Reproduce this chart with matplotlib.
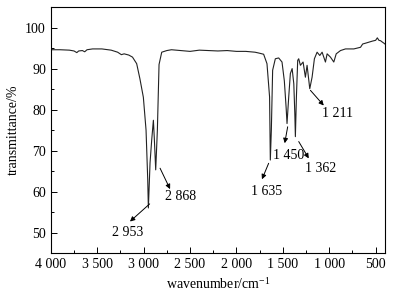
import matplotlib
matplotlib.use("Agg")
import matplotlib.pyplot as plt
from matplotlib.ticker import MultipleLocator, FuncFormatter

# IR spectrum (wavenumber cm-1, transmittance %)
wavenumber = [4000, 3900, 3800, 3750, 3720, 3700, 3660, 3635, 3610, 3550,
              3450, 3350, 3280, 3240, 3210, 3160, 3120, 3075, 3040, 3003,
              2974, 2956, 2949, 2931, 2913, 2895, 2885, 2870, 2852, 2834,
              2805, 2750, 2700, 2600, 2500, 2400, 2300, 2200, 2100, 2000,
              1900, 1800, 1760, 1707, 1671, 1643, 1635, 1624, 1610, 1581,
              1545, 1509, 1484, 1465, 1455, 1437, 1419, 1400, 1382, 1371,
              1365, 1354, 1340, 1329, 1311, 1282, 1257, 1239, 1210, 1185,
              1160, 1131, 1102, 1077, 1041, 1023, 987, 951, 925, 879,
              825, 735, 663, 640, 609, 536, 500, 482, 465, 447,
              430, 411, 400]
transmittance = [94.6, 94.6, 94.5, 94.3, 93.9, 94.3, 94.4, 94.1, 94.6, 94.8,
                 94.8, 94.5, 94.0, 93.4, 93.6, 93.3, 92.8, 91.2, 87.5, 83.0,
                 75.0, 63.0, 56.0, 67.0, 72.6, 77.4, 73.0, 65.3, 75.0, 91.0,
                 94.0, 94.4, 94.6, 94.4, 94.2, 94.5, 94.4, 94.3, 94.4, 94.2,
                 94.2, 94.0, 93.8, 93.5, 91.2, 83.1, 67.7, 75.0, 89.6, 92.4,
                 92.6, 91.6, 87.0, 80.6, 76.6, 83.0, 88.8, 90.0, 86.3, 79.0,
                 73.4, 83.0, 92.0, 92.4, 90.8, 91.6, 87.9, 90.8, 85.1, 87.9,
                 92.4, 94.0, 93.2, 94.0, 91.6, 93.6, 92.8, 91.6, 93.6, 94.4,
                 94.8, 94.8, 95.2, 96.0, 96.2, 96.7, 96.9, 97.5, 96.9, 96.8,
                 96.5, 96.2, 96.0]

# peak labels: text, text position, arrow tail, arrow head
peak_labels = ["2 953", "2 868", "1 635", "1 450", "1 362", "1 211"]
label_pos = [(3168, 50.0), (2606, 58.8), (1671, 60.0), (1437, 68.9),
             (1095, 65.7), (914, 79.0)]
arrow_tail = [(2935, 57.0), (2823, 65.7), (1653, 66.9), (1448, 75.8),
              (1329, 72.2), (1203, 84.7)]
arrow_head = [(3147, 52.7), (2715, 60.6), (1725, 63.0), (1480, 71.8),
              (1221, 68.1), (1059, 81.0)]

plt.rcParams["font.family"] = ["Liberation Serif", "DejaVu Serif"]
plt.rcParams["font.size"] = 10
plt.rcParams["mathtext.fontset"] = "stix"

fig = plt.figure(figsize=(3.94, 2.96), dpi=100)
ax = fig.add_axes([0.129, 0.145, 0.848, 0.831])

ax.plot(wavenumber, transmittance, color="#222222", lw=0.8)

for txt, pos, tail, head in zip(peak_labels, label_pos, arrow_tail, arrow_head):
    ax.annotate("", xy=head, xytext=tail,
                arrowprops=dict(arrowstyle="-|>", color="black", lw=0.7,
                                mutation_scale=7, shrinkA=0, shrinkB=0))
    ax.text(pos[0], pos[1], txt, ha="center", va="center", fontsize=10)

ax.set_xlim(4000, 400)
ax.set_ylim(45, 105)
ax.xaxis.set_major_locator(MultipleLocator(500))
ax.xaxis.set_minor_locator(MultipleLocator(250))
ax.yaxis.set_major_locator(MultipleLocator(10))
ax.yaxis.set_minor_locator(MultipleLocator(5))
ax.yaxis.set_major_formatter(FuncFormatter(lambda v, p: "%d" % v if 50 <= v <= 100 else ""))
ax.xaxis.set_major_formatter(FuncFormatter(lambda v, p: "{:,}".format(int(v)).replace(",", " ")))
ax.tick_params(which="both", direction="in", top=False, right=False, labelsize=10)
ax.tick_params(which="major", length=4, width=0.7)
ax.tick_params(which="minor", length=2, width=0.7)
for s in ax.spines.values():
    s.set_linewidth(0.8)

ax.set_xlabel("wavenumber/cm$^{\\mathregular{-1}}$", fontsize=10, labelpad=4)
ax.set_ylabel("transmittance/%", fontsize=10, labelpad=4)

fig.savefig("out.png", dpi=100)
